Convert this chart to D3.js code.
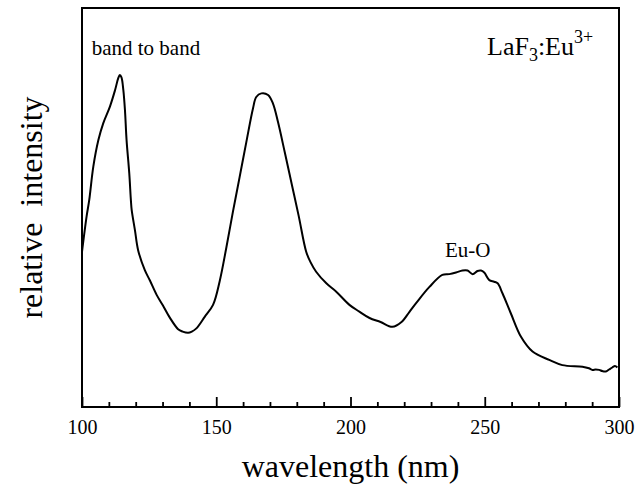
<!DOCTYPE html>
<html>
<head>
<meta charset="utf-8">
<script src="https://cdn.jsdelivr.net/npm/d3@7"></script>
<style>
  html, body { margin: 0; padding: 0; background: #fff; }
  svg { display: block; }
</style>
</head>
<body>
<svg id="chart" width="636" height="487"></svg>
<script>
const SERIF = "'Liberation Serif', 'Times New Roman', 'DejaVu Serif', serif";
// wavelength (nm)
const wavelength = [100.0,101.7,102.7,104.2,106.1,107.9,110.4,112.3,113.5,114.1,114.7,115.4,116.0,116.6,117.6,118.2,118.5,119.7,120.9,123.4,125.3,127.8,130.1,132.7,135.8,137.5,139.5,140.9,142.6,145.7,148.8,151.3,153.8,156.2,158.7,161.2,163.7,164.9,166.8,169.3,171.1,173.0,175.5,178.1,180.7,183.5,185.1,187.2,191.0,194.7,199.6,203.3,207.1,211.2,215.6,219.0,221.9,224.5,229.4,234.2,236.8,239.3,241.7,243.6,245.5,247.3,248.6,249.8,251.7,253.5,254.8,256.6,259.7,263.5,267.8,274.0,278.9,286.4,288.8,290.1,291.3,292.6,293.8,295.1,296.3,297.5,298.5,299.4];
// relative intensity (arbitrary units)
const intensity = [38.9,47.7,51.9,60.2,66.9,71.1,75.3,79.4,82.4,83.2,82.6,79.4,74.4,66.9,58.6,51.9,49.4,44.4,39.3,34.3,31.7,28.1,25.5,22.4,19.5,18.9,18.6,18.9,19.7,22.6,25.6,31.6,40.1,48.9,57.6,66.4,74.9,77.7,78.6,78.2,76.1,71.4,63.9,55.9,47.9,38.9,36.3,33.9,31.0,28.9,25.6,23.9,22.3,21.3,20.1,21.3,23.8,26.1,30.1,33.1,33.3,33.7,34.2,34.2,33.3,34.1,34.2,33.7,31.8,31.4,31.0,28.5,23.5,17.6,13.9,11.8,10.5,10.1,9.7,9.3,9.4,9.3,9.0,8.9,9.4,9.9,10.3,9.9];
const majorTicks = [100, 150, 200, 250, 300];
const minorTicks = [110,120,130,140,160,170,180,190,210,220,230,240,260,270,280,290];
const annotations = [
  {label: "band to band", wl: 103.6, val: 88.2},
  {label: "Eu-O", wl: 235.2, val: 37.6}
];

const svg = d3.select("#chart");
const x = d3.scaleLinear().domain([100, 300]).range([82, 619]);
const y = d3.scaleLinear().domain([0, 100]).range([407, 8]);

// frame
svg.append("rect")
  .attr("x", x(100)).attr("y", y(100))
  .attr("width", x(300) - x(100)).attr("height", y(0) - y(100))
  .attr("fill", "none").attr("stroke", "#000").attr("stroke-width", 2);

// minor ticks
const minorAxis = svg.append("g")
  .attr("transform", `translate(0,${y(0)})`)
  .call(d3.axisBottom(x).tickValues(minorTicks).tickSize(-5).tickFormat(""));
minorAxis.select(".domain").remove();
minorAxis.selectAll("line").attr("stroke", "#000").attr("stroke-width", 1.8);

// major ticks + labels
const majorAxis = svg.append("g")
  .attr("transform", `translate(0,${y(0)})`)
  .attr("font-family", SERIF)
  .call(d3.axisBottom(x).tickValues(majorTicks).tickSize(-10).tickPadding(13).tickFormat(d3.format("d")));
majorAxis.attr("font-family", SERIF).attr("font-size", 20);
majorAxis.select(".domain").remove();
majorAxis.selectAll("line").attr("stroke", "#000").attr("stroke-width", 1.8);
majorAxis.selectAll("text")
  .style("font-family", SERIF)
  .style("font-size", "20px").attr("fill", "#000");

// curve
const pts = wavelength.map((w, i) => [w, intensity[i]]);
const line = d3.line().x(d => x(d[0])).y(d => y(d[1])).curve(d3.curveCatmullRom.alpha(0.5));
svg.append("path").datum(pts)
  .attr("d", line)
  .attr("fill", "none").attr("stroke", "#000").attr("stroke-width", 2)
  .attr("stroke-linejoin", "round");

// annotations
svg.selectAll("text.ann").data(annotations).enter().append("text")
  .attr("class", "ann")
  .attr("x", d => x(d.wl)).attr("y", d => y(d.val))
  .style("font-family", SERIF)
  .style("font-size", "21px")
  .attr("fill", "#000")
  .text(d => d.label);

// LaF3:Eu3+
const lab = svg.append("text").attr("x", 487).attr("y", 55)
  .style("font-family", SERIF).style("font-size", "26px").attr("fill", "#000");
lab.append("tspan").text("LaF");
lab.append("tspan").attr("dy", 6).style("font-size", "18px").text("3");
lab.append("tspan").attr("dy", -6).text(":Eu");
lab.append("tspan").attr("dy", -12).style("font-size", "18px").text("3+");

// axis titles
svg.append("text")
  .attr("x", (x(100) + x(300)) / 2).attr("y", 477)
  .attr("text-anchor", "middle")
  .style("font-family", SERIF)
  .style("font-size", "32px")
  .attr("fill", "#000")
  .text("wavelength (nm)");

svg.append("text")
  .attr("transform", `translate(42,${(y(0) + y(100)) / 2}) rotate(-90)`)
  .attr("text-anchor", "middle")
  .style("font-family", SERIF)
  .style("font-size", "32px")
  .style("white-space", "pre")
  .attr("fill", "#000")
  .text("relative  intensity");
</script>
</body>
</html>
